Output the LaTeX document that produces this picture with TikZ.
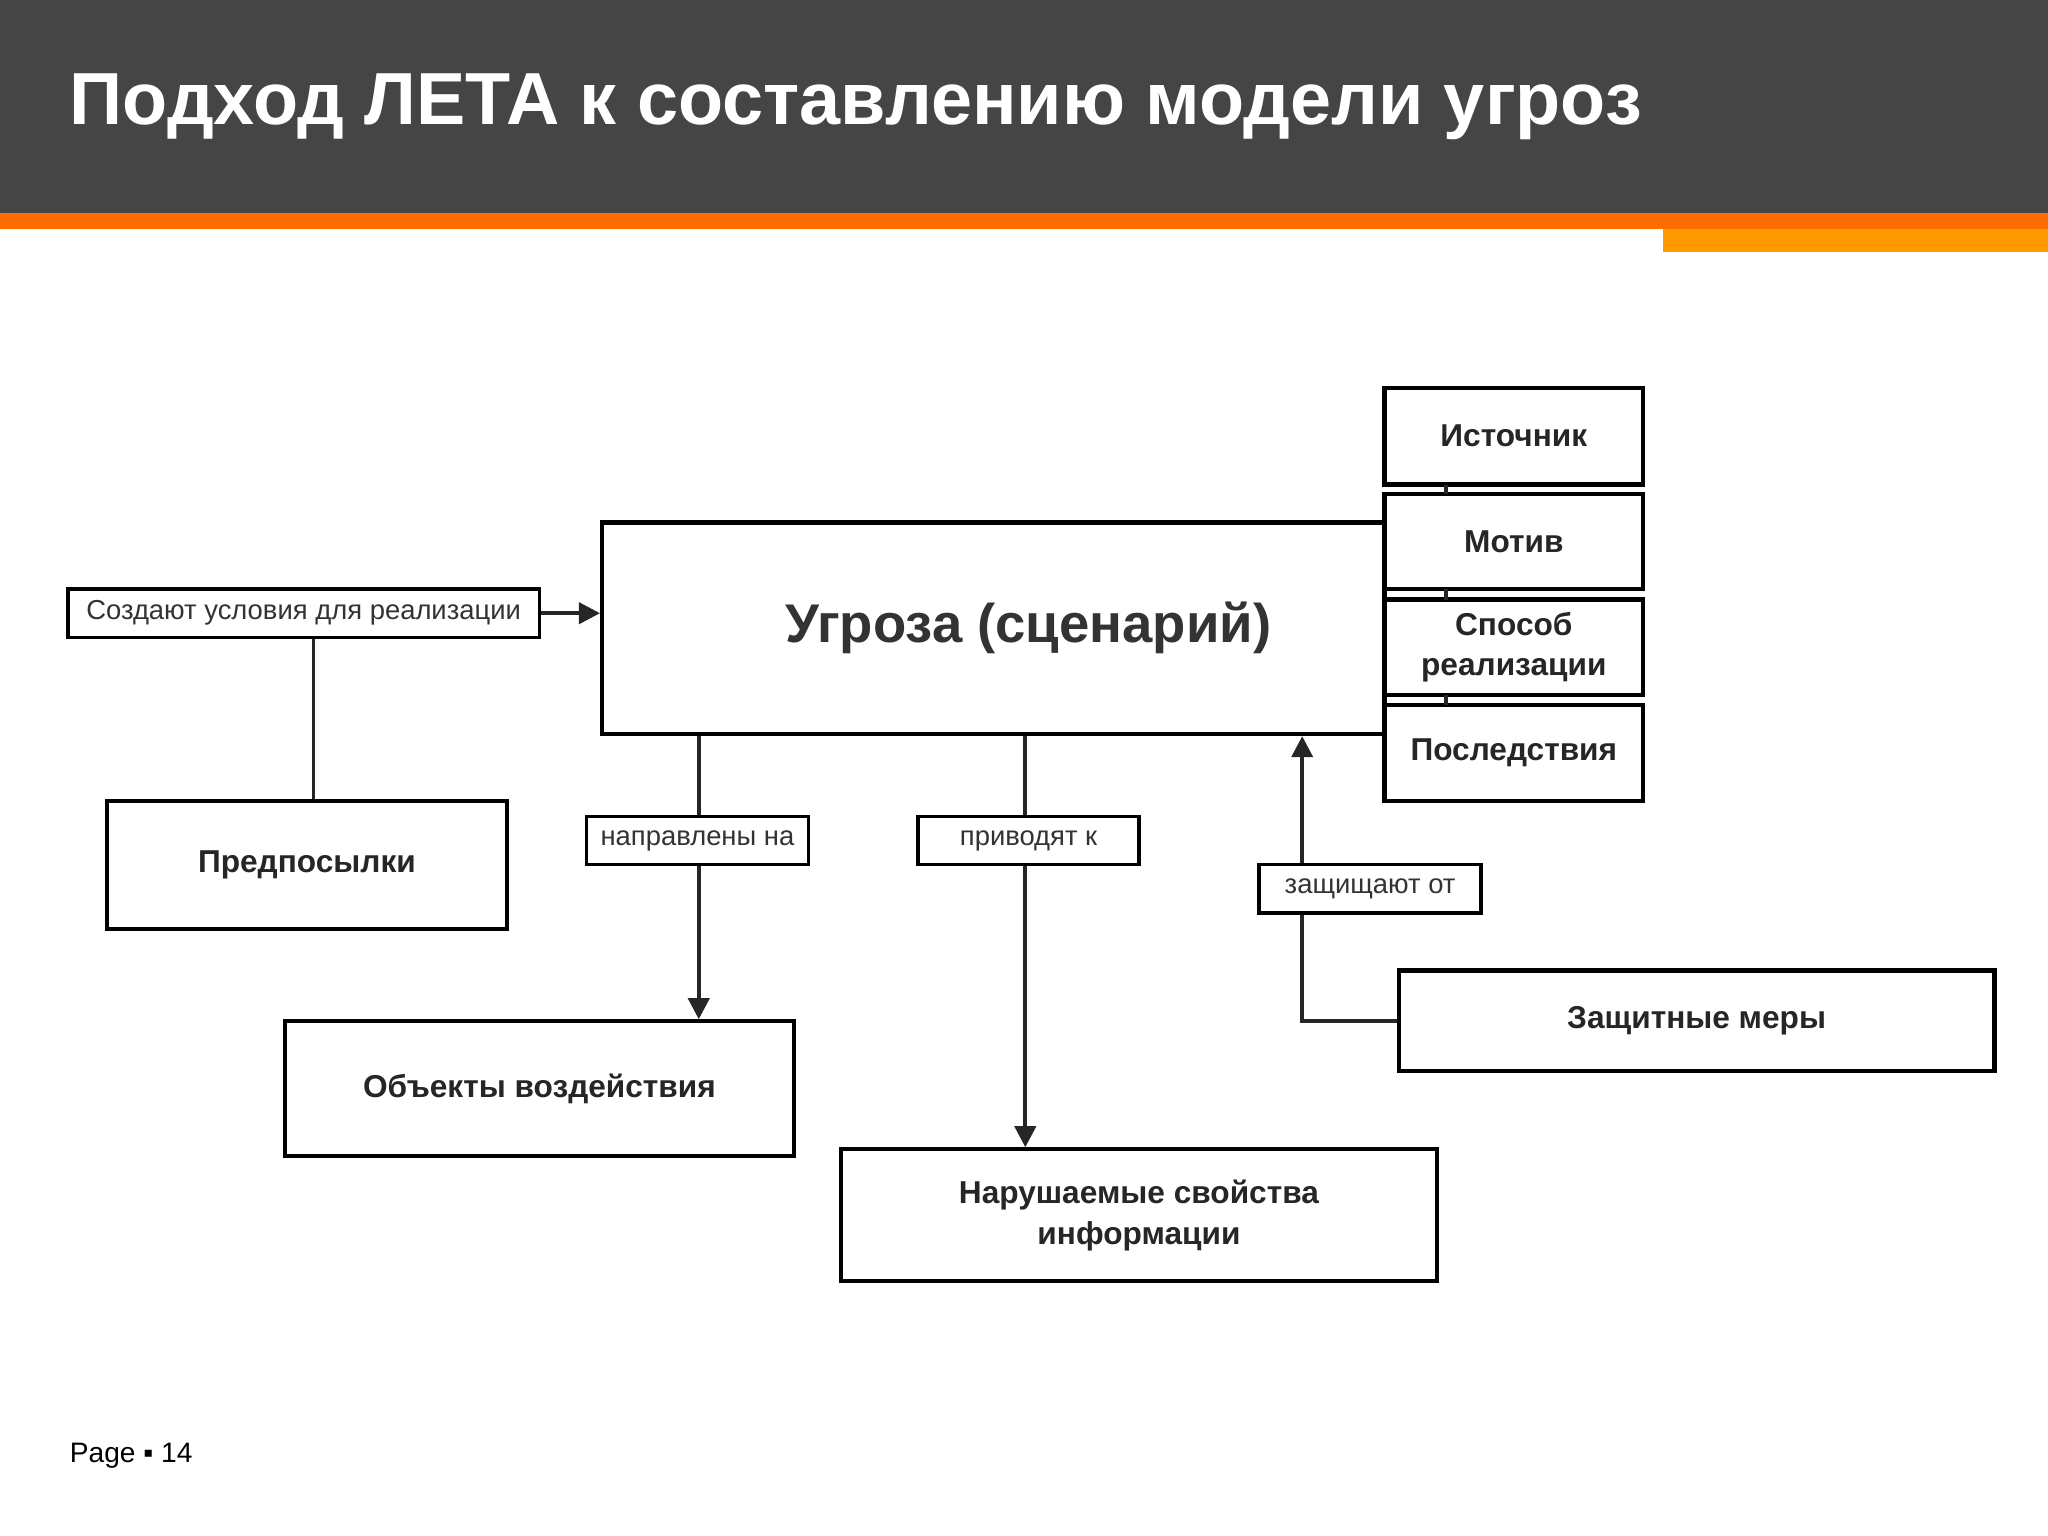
\documentclass[tikz,border=0pt]{standalone}
\usepackage{fontspec}
\setmainfont{Liberation Sans}
\usetikzlibrary{arrows.meta}
\begin{document}
\begin{tikzpicture}[x=0.013061cm,y=-0.013061cm,
  box/.style={draw=black,line width=1.2pt,fill=white,inner sep=0pt,align=center,font=\fontsize{9}{11.5}\selectfont\bfseries,text=black!85},
  lbl/.style={draw=black,line width=1pt,fill=white,inner sep=0pt,font=\fontsize{7.8}{10}\selectfont,text=black!80},
  ln/.style={line width=1.1pt,draw=black!85},
  arr/.style={ln,-{Triangle[length=6pt,width=6pt]}}]
\useasboundingbox (0,0) rectangle (1568,1176);
\fill[white] (0,0) rectangle (1568,1176);
\fill[black!73] (0,0) rectangle (1568,163);
\fill[orange!85!red] (0,163) rectangle (1568,175);
\fill[orange!80!yellow] (1273,175) rectangle (1568,193);
\node[anchor=base west,inner sep=0pt,text=white,font=\fontsize{21}{24}\selectfont\bfseries] (title) at (53,95) {Подход ЛЕТА к составлению модели угроз};
% boxes
\node[box,minimum width=599*0.013061cm,minimum height=162*0.013061cm,font=\fontsize{15.5}{18}\selectfont\bfseries,text=black!80] (ug) at (760.5,481) {\hspace*{0.7cm}Угроза (сценарий)};
\node[box,minimum width=198*0.013061cm,minimum height=74*0.013061cm] (ist) at (1159,334) {Источник};
\node[box,minimum width=198*0.013061cm,minimum height=73*0.013061cm] (mot) at (1159,414.5) {Мотив};
\node[box,minimum width=198*0.013061cm,minimum height=73*0.013061cm] (spo) at (1159,495.5) {Способ\\реализации};
\node[box,minimum width=198*0.013061cm,minimum height=73*0.013061cm] (pos) at (1159,576.5) {Последствия};
\draw[ln] (1107,371) -- (1107,378);
\draw[ln] (1107,451) -- (1107,459);
\draw[ln] (1107,532) -- (1107,540);
\node[box,minimum width=306*0.013061cm,minimum height=98*0.013061cm] (pre) at (235,662) {Предпосылки};
\node[box,minimum width=390*0.013061cm,minimum height=103*0.013061cm] (obj) at (413,833.5) {Объекты воздействия};
\node[box,minimum width=456*0.013061cm,minimum height=101*0.013061cm] (nar) at (872,930.5) {Нарушаемые свойства\\информации};
\node[box,minimum width=456*0.013061cm,minimum height=77*0.013061cm] (zm) at (1299,781.5) {Защитные меры};
% labels
\node[lbl,minimum width=361*0.013061cm,minimum height=37*0.013061cm] (l1) at (232.5,469.5) {Создают условия для реализации};
\node[lbl,minimum width=170*0.013061cm,minimum height=37*0.013061cm] (l2) at (534,643.5) {направлены на};
\node[lbl,minimum width=169*0.013061cm,minimum height=37*0.013061cm] (l3) at (787.5,643.5) {приводят к};
\node[lbl,minimum width=170*0.013061cm,minimum height=37*0.013061cm] (l4) at (1049,680.5) {защищают от};
% connectors
\draw[arr] (l1.east) -- (ug.west |- l1.east);
\draw[ln] (pre.north -| 240,0) -- (l1.south -| 240,0);
\draw[ln] (ug.south -| 535,0) -- (l2.north -| 535,0);
\draw[arr] (l2.south -| 535,0) -- (obj.north -| 535,0);
\draw[ln] (ug.south -| 785,0) -- (l3.north -| 785,0);
\draw[arr] (l3.south -| 785,0) -- (nar.north -| 785,0);
\draw[ln] (zm.west) -- (997,781.5) -- (l4.south -| 997,0);
\draw[arr] (l4.north -| 997,0) -- (ug.south -| 997,0);
\node[anchor=base west,inner sep=0pt,font=\fontsize{8}{10}\selectfont] (pg) at (53,1120) {Page ▪ 14};
\end{tikzpicture}
\end{document}
